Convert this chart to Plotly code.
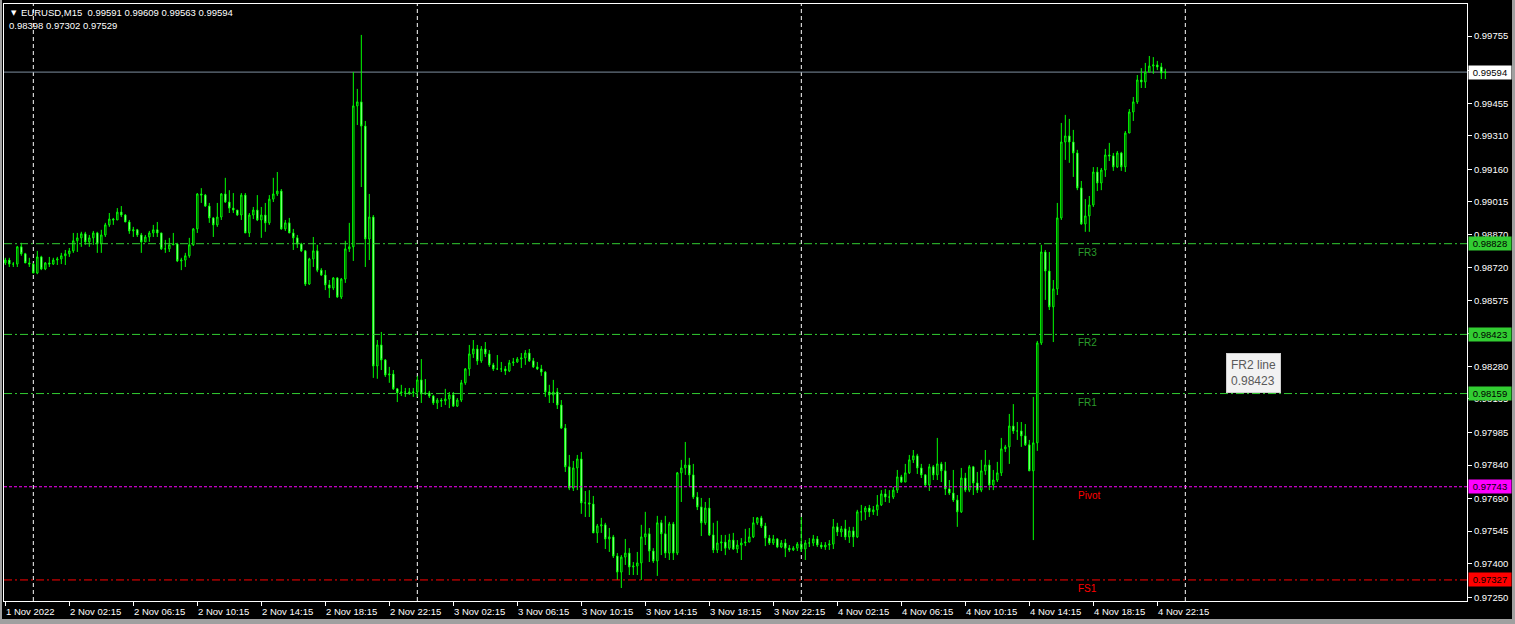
import plotly.graph_objects as go

# ---------------- data (EURUSD, M15) ----------------
opens = [
    0.98742, 0.98755, 0.98737, 0.98737, 0.98814, 0.98783, 0.98742, 0.98737, 0.98697, 0.98769,
    0.98715, 0.98742, 0.98737, 0.98755, 0.98760, 0.98774, 0.98783, 0.98796, 0.98841, 0.98854,
    0.98872, 0.98836, 0.98854, 0.98876, 0.98827, 0.98867, 0.98912, 0.98938, 0.98934, 0.98969,
    0.98956, 0.98925, 0.98885, 0.98890, 0.98867, 0.98836, 0.98858, 0.98876, 0.98890, 0.98876,
    0.98805, 0.98805, 0.98823, 0.98827, 0.98751, 0.98755, 0.98774, 0.98823, 0.98894, 0.99050,
    0.99045, 0.98996, 0.98943, 0.98912, 0.98947, 0.99050, 0.99014, 0.98987, 0.98978, 0.98956,
    0.99045, 0.98876, 0.98956, 0.98978, 0.98934, 0.98956, 0.98921, 0.99027, 0.99050, 0.99063,
    0.98894, 0.98921, 0.98876, 0.98854, 0.98827, 0.98796, 0.98648, 0.98760, 0.98796, 0.98710,
    0.98688, 0.98644, 0.98630, 0.98675, 0.98590, 0.98670, 0.98805, 0.98814, 0.99443, 0.99461,
    0.99353, 0.98849, 0.98947, 0.98282, 0.98376, 0.98309, 0.98242, 0.98246, 0.98180, 0.98162,
    0.98166, 0.98166, 0.98162, 0.98166, 0.98220, 0.98157, 0.98162, 0.98148, 0.98117, 0.98130,
    0.98126, 0.98135, 0.98153, 0.98103, 0.98130, 0.98207, 0.98269, 0.98336, 0.98358, 0.98305,
    0.98358, 0.98336, 0.98287, 0.98269, 0.98269, 0.98269, 0.98260, 0.98296, 0.98300, 0.98313,
    0.98318, 0.98340, 0.98305, 0.98278, 0.98269, 0.98255, 0.98166, 0.98153, 0.98166, 0.98108,
    0.98005, 0.97832, 0.97737, 0.97827, 0.97867, 0.97671, 0.97671, 0.97666, 0.97537, 0.97568,
    0.97573, 0.97510, 0.97519, 0.97434, 0.97362, 0.97429, 0.97447, 0.97385, 0.97389, 0.97403,
    0.97519, 0.97533, 0.97456, 0.97412, 0.97582, 0.97533, 0.97447, 0.97577, 0.97447, 0.97805,
    0.97827, 0.97840, 0.97796, 0.97697, 0.97653, 0.97582, 0.97648, 0.97528, 0.97461, 0.97492,
    0.97496, 0.97469, 0.97505, 0.97465, 0.97483, 0.97492, 0.97496, 0.97519, 0.97582, 0.97604,
    0.97568, 0.97514, 0.97492, 0.97510, 0.97474, 0.97492, 0.97469, 0.97461, 0.97469, 0.97487,
    0.97465, 0.97492, 0.97492, 0.97510, 0.97483, 0.97474, 0.97483, 0.97487, 0.97564, 0.97541,
    0.97555, 0.97519, 0.97546, 0.97519, 0.97631, 0.97631, 0.97648, 0.97631, 0.97640, 0.97662,
    0.97711, 0.97697, 0.97697, 0.97728, 0.97787, 0.97764, 0.97805, 0.97863, 0.97881, 0.97827,
    0.97796, 0.97751, 0.97832, 0.97796, 0.97845, 0.97814, 0.97733, 0.97715, 0.97684, 0.97631,
    0.97782, 0.97728, 0.97832, 0.97760, 0.97728, 0.97814, 0.97840, 0.97751, 0.97773, 0.97805,
    0.97912, 0.97921, 0.98014, 0.97992, 0.97992, 0.97970, 0.97930, 0.97814, 0.97939, 0.98385,
    0.98791, 0.98706, 0.98546, 0.98626, 0.98943, 0.99282, 0.99309, 0.99282, 0.99233, 0.99077,
    0.98916, 0.98952, 0.99001, 0.99148, 0.99099, 0.99157, 0.99224, 0.99220, 0.99171, 0.99233,
    0.99171, 0.99322, 0.99416, 0.99461, 0.99559, 0.99550, 0.99594, 0.99621, 0.99626, 0.99617,
    0.99591,
]
highs = [
    0.98765, 0.98765, 0.98746, 0.98818, 0.98832, 0.98787, 0.98765, 0.98742, 0.98796, 0.98774,
    0.98746, 0.98769, 0.98765, 0.98769, 0.98787, 0.98800, 0.98809, 0.98876, 0.98876, 0.98881,
    0.98881, 0.98867, 0.98885, 0.98881, 0.98890, 0.98921, 0.98965, 0.98943, 0.98987, 0.98996,
    0.98960, 0.98934, 0.98903, 0.98894, 0.98876, 0.98867, 0.98885, 0.98912, 0.98925, 0.98876,
    0.98845, 0.98854, 0.98876, 0.98832, 0.98765, 0.98787, 0.98854, 0.98898, 0.99054, 0.99076,
    0.99050, 0.99010, 0.98947, 0.99010, 0.99054, 0.99122, 0.99067, 0.99054, 0.98978, 0.99054,
    0.99054, 0.98965, 0.98992, 0.99045, 0.98992, 0.99010, 0.99045, 0.99122, 0.99148, 0.99072,
    0.98934, 0.98943, 0.98894, 0.98867, 0.98832, 0.98800, 0.98765, 0.98858, 0.98823, 0.98719,
    0.98710, 0.98666, 0.98679, 0.98679, 0.98675, 0.98841, 0.98921, 0.99594, 0.99519, 0.99760,
    0.99376, 0.99050, 0.98956, 0.98398, 0.98434, 0.98313, 0.98278, 0.98264, 0.98184, 0.98198,
    0.98184, 0.98184, 0.98184, 0.98238, 0.98313, 0.98224, 0.98171, 0.98153, 0.98139, 0.98139,
    0.98180, 0.98166, 0.98166, 0.98139, 0.98220, 0.98273, 0.98376, 0.98398, 0.98376, 0.98371,
    0.98389, 0.98353, 0.98296, 0.98331, 0.98300, 0.98282, 0.98309, 0.98318, 0.98322, 0.98340,
    0.98353, 0.98358, 0.98318, 0.98300, 0.98287, 0.98260, 0.98198, 0.98220, 0.98184, 0.98130,
    0.98023, 0.97885, 0.97858, 0.97885, 0.97898, 0.97724, 0.97728, 0.97702, 0.97577, 0.97604,
    0.97582, 0.97559, 0.97528, 0.97447, 0.97438, 0.97510, 0.97469, 0.97407, 0.97452, 0.97573,
    0.97631, 0.97559, 0.97469, 0.97613, 0.97595, 0.97613, 0.97586, 0.97586, 0.97809, 0.97863,
    0.97943, 0.97872, 0.97845, 0.97719, 0.97693, 0.97675, 0.97693, 0.97582, 0.97591, 0.97528,
    0.97528, 0.97533, 0.97537, 0.97505, 0.97514, 0.97555, 0.97559, 0.97608, 0.97608, 0.97613,
    0.97582, 0.97528, 0.97528, 0.97514, 0.97505, 0.97510, 0.97483, 0.97478, 0.97496, 0.97608,
    0.97505, 0.97514, 0.97528, 0.97523, 0.97496, 0.97496, 0.97505, 0.97599, 0.97582, 0.97568,
    0.97595, 0.97564, 0.97564, 0.97640, 0.97662, 0.97657, 0.97662, 0.97657, 0.97706, 0.97728,
    0.97733, 0.97728, 0.97742, 0.97818, 0.97796, 0.97845, 0.97885, 0.97907, 0.97890, 0.97845,
    0.97800, 0.97845, 0.97840, 0.97961, 0.97854, 0.97854, 0.97773, 0.97818, 0.97706, 0.97827,
    0.97805, 0.97840, 0.97836, 0.97809, 0.97863, 0.97907, 0.97863, 0.97818, 0.97854, 0.97961,
    0.97930, 0.98068, 0.98112, 0.98032, 0.98032, 0.98023, 0.97952, 0.98144, 0.98394, 0.98823,
    0.98800, 0.98791, 0.98666, 0.99010, 0.99367, 0.99403, 0.99385, 0.99336, 0.99247, 0.99108,
    0.99027, 0.99041, 0.99170, 0.99170, 0.99166, 0.99251, 0.99278, 0.99233, 0.99242, 0.99238,
    0.99331, 0.99429, 0.99483, 0.99581, 0.99612, 0.99635, 0.99666, 0.99661, 0.99644, 0.99635,
    0.99609,
]
lows = [
    0.98733, 0.98724, 0.98724, 0.98724, 0.98774, 0.98742, 0.98724, 0.98697, 0.98692, 0.98710,
    0.98710, 0.98724, 0.98733, 0.98733, 0.98737, 0.98733, 0.98769, 0.98787, 0.98791, 0.98814,
    0.98823, 0.98814, 0.98823, 0.98787, 0.98787, 0.98858, 0.98903, 0.98912, 0.98934, 0.98947,
    0.98925, 0.98872, 0.98858, 0.98858, 0.98787, 0.98836, 0.98836, 0.98858, 0.98858, 0.98800,
    0.98787, 0.98791, 0.98823, 0.98746, 0.98710, 0.98724, 0.98765, 0.98818, 0.98876, 0.99010,
    0.98992, 0.98921, 0.98858, 0.98903, 0.98934, 0.99010, 0.98965, 0.98965, 0.98952, 0.98934,
    0.98876, 0.98858, 0.98938, 0.98929, 0.98854, 0.98881, 0.98912, 0.99014, 0.99041, 0.98890,
    0.98885, 0.98876, 0.98800, 0.98809, 0.98791, 0.98639, 0.98644, 0.98724, 0.98701, 0.98684,
    0.98621, 0.98586, 0.98621, 0.98586, 0.98581, 0.98653, 0.98791, 0.98751, 0.99358, 0.99081,
    0.98724, 0.98755, 0.98229, 0.98225, 0.98264, 0.98233, 0.98207, 0.98175, 0.98121, 0.98148,
    0.98144, 0.98153, 0.98144, 0.98144, 0.98117, 0.98153, 0.98139, 0.98108, 0.98090, 0.98099,
    0.98108, 0.98094, 0.98099, 0.98099, 0.98121, 0.98198, 0.98238, 0.98318, 0.98287, 0.98296,
    0.98322, 0.98278, 0.98260, 0.98264, 0.98255, 0.98242, 0.98255, 0.98282, 0.98296, 0.98273,
    0.98287, 0.98300, 0.98273, 0.98264, 0.98238, 0.98144, 0.98117, 0.98117, 0.98090, 0.98001,
    0.97809, 0.97728, 0.97724, 0.97728, 0.97622, 0.97608, 0.97608, 0.97537, 0.97492, 0.97537,
    0.97465, 0.97452, 0.97425, 0.97327, 0.97291, 0.97394, 0.97349, 0.97349, 0.97349, 0.97327,
    0.97483, 0.97407, 0.97403, 0.97345, 0.97438, 0.97425, 0.97416, 0.97416, 0.97438, 0.97675,
    0.97796, 0.97746, 0.97688, 0.97639, 0.97523, 0.97573, 0.97523, 0.97447, 0.97447, 0.97456,
    0.97438, 0.97461, 0.97461, 0.97447, 0.97416, 0.97478, 0.97496, 0.97514, 0.97573, 0.97559,
    0.97478, 0.97483, 0.97483, 0.97469, 0.97469, 0.97429, 0.97452, 0.97456, 0.97456, 0.97452,
    0.97416, 0.97474, 0.97478, 0.97474, 0.97465, 0.97461, 0.97461, 0.97465, 0.97523, 0.97519,
    0.97505, 0.97492, 0.97474, 0.97514, 0.97591, 0.97595, 0.97608, 0.97617, 0.97613, 0.97657,
    0.97675, 0.97671, 0.97688, 0.97715, 0.97760, 0.97764, 0.97800, 0.97849, 0.97800, 0.97782,
    0.97742, 0.97724, 0.97773, 0.97773, 0.97764, 0.97706, 0.97706, 0.97675, 0.97564, 0.97626,
    0.97719, 0.97719, 0.97706, 0.97715, 0.97719, 0.97796, 0.97728, 0.97728, 0.97764, 0.97791,
    0.97898, 0.97845, 0.97979, 0.97952, 0.97921, 0.97925, 0.97814, 0.97505, 0.97903, 0.98376,
    0.98577, 0.98532, 0.98389, 0.98599, 0.98934, 0.99202, 0.99189, 0.99126, 0.99067, 0.98912,
    0.98881, 0.98881, 0.98992, 0.99063, 0.99067, 0.99126, 0.99197, 0.99153, 0.99166, 0.99153,
    0.99148, 0.99322, 0.99376, 0.99452, 0.99523, 0.99523, 0.99594, 0.99586, 0.99603, 0.99563,
    0.99563,
]
closes = [
    0.98755, 0.98737, 0.98737, 0.98814, 0.98783, 0.98742, 0.98737, 0.98697, 0.98769, 0.98715,
    0.98742, 0.98737, 0.98755, 0.98760, 0.98774, 0.98783, 0.98796, 0.98841, 0.98854, 0.98872,
    0.98836, 0.98854, 0.98876, 0.98827, 0.98867, 0.98912, 0.98938, 0.98934, 0.98969, 0.98956,
    0.98925, 0.98885, 0.98890, 0.98867, 0.98836, 0.98858, 0.98876, 0.98890, 0.98876, 0.98805,
    0.98805, 0.98823, 0.98827, 0.98751, 0.98755, 0.98774, 0.98823, 0.98894, 0.99050, 0.99045,
    0.98996, 0.98943, 0.98912, 0.98947, 0.99050, 0.99014, 0.98987, 0.98978, 0.98956, 0.99045,
    0.98876, 0.98956, 0.98978, 0.98934, 0.98956, 0.98921, 0.99027, 0.99050, 0.99063, 0.98894,
    0.98921, 0.98876, 0.98854, 0.98827, 0.98796, 0.98648, 0.98760, 0.98796, 0.98710, 0.98688,
    0.98644, 0.98630, 0.98675, 0.98590, 0.98670, 0.98805, 0.98814, 0.99443, 0.99461, 0.99353,
    0.98849, 0.98947, 0.98282, 0.98376, 0.98309, 0.98242, 0.98246, 0.98180, 0.98162, 0.98166,
    0.98166, 0.98162, 0.98166, 0.98220, 0.98157, 0.98162, 0.98148, 0.98117, 0.98130, 0.98126,
    0.98135, 0.98153, 0.98103, 0.98130, 0.98207, 0.98269, 0.98336, 0.98358, 0.98305, 0.98358,
    0.98336, 0.98287, 0.98269, 0.98269, 0.98269, 0.98260, 0.98296, 0.98300, 0.98313, 0.98318,
    0.98340, 0.98305, 0.98278, 0.98269, 0.98255, 0.98166, 0.98153, 0.98166, 0.98108, 0.98005,
    0.97832, 0.97737, 0.97827, 0.97867, 0.97671, 0.97671, 0.97666, 0.97537, 0.97568, 0.97573,
    0.97510, 0.97519, 0.97434, 0.97362, 0.97429, 0.97447, 0.97385, 0.97389, 0.97403, 0.97519,
    0.97533, 0.97456, 0.97412, 0.97582, 0.97533, 0.97447, 0.97577, 0.97447, 0.97805, 0.97827,
    0.97840, 0.97796, 0.97697, 0.97653, 0.97582, 0.97648, 0.97528, 0.97461, 0.97492, 0.97496,
    0.97469, 0.97505, 0.97465, 0.97483, 0.97492, 0.97496, 0.97519, 0.97582, 0.97604, 0.97568,
    0.97514, 0.97492, 0.97510, 0.97474, 0.97492, 0.97469, 0.97461, 0.97469, 0.97487, 0.97465,
    0.97492, 0.97492, 0.97510, 0.97483, 0.97474, 0.97483, 0.97487, 0.97564, 0.97541, 0.97555,
    0.97519, 0.97546, 0.97519, 0.97631, 0.97631, 0.97648, 0.97631, 0.97640, 0.97662, 0.97711,
    0.97697, 0.97697, 0.97728, 0.97787, 0.97764, 0.97805, 0.97863, 0.97881, 0.97827, 0.97796,
    0.97751, 0.97832, 0.97796, 0.97845, 0.97814, 0.97733, 0.97715, 0.97684, 0.97631, 0.97782,
    0.97728, 0.97832, 0.97760, 0.97728, 0.97814, 0.97840, 0.97751, 0.97773, 0.97805, 0.97912,
    0.97921, 0.98014, 0.97992, 0.97992, 0.97970, 0.97930, 0.97814, 0.97939, 0.98385, 0.98791,
    0.98706, 0.98546, 0.98626, 0.98943, 0.99282, 0.99309, 0.99282, 0.99233, 0.99077, 0.98916,
    0.98952, 0.99001, 0.99148, 0.99099, 0.99157, 0.99224, 0.99220, 0.99171, 0.99233, 0.99171,
    0.99322, 0.99416, 0.99461, 0.99559, 0.99550, 0.99594, 0.99621, 0.99626, 0.99617, 0.99590,
    0.99594,
]

time_labels = [
    "1 Nov 2022", "2 Nov 02:15", "2 Nov 06:15", "2 Nov 10:15", "2 Nov 14:15", "2 Nov 18:15",
    "2 Nov 22:15", "3 Nov 02:15", "3 Nov 06:15", "3 Nov 10:15", "3 Nov 14:15", "3 Nov 18:15",
    "3 Nov 22:15", "4 Nov 02:15", "4 Nov 06:15", "4 Nov 10:15", "4 Nov 14:15", "4 Nov 18:15",
    "4 Nov 22:15",
]
label_bars = [0, 16, 32, 48, 64, 80, 96, 112, 128, 144, 160, 176, 192, 208, 224, 240, 256, 272, 288]
day_grid_bars = [7, 103, 199, 295]

price_ticks = [0.99755, 0.99600, 0.99455, 0.99310, 0.99160, 0.99015, 0.98870, 0.98720, 0.98575,
               0.98425, 0.98280, 0.98135, 0.97985, 0.97840, 0.97690, 0.97545, 0.97400, 0.97250]

level_names = ["FR3", "FR2", "FR1", "Pivot", "FS1"]
level_values = [0.98828, 0.98423, 0.98159, 0.97743, 0.97327]
level_colors = ["#32CD32", "#32CD32", "#32CD32", "#FF00FF", "#FF0000"]
level_text_colors = ["#2A9A2A", "#2A9A2A", "#2A9A2A", "#FF0000", "#FF0000"]
level_dashes = ["8px,3px,2px,3px", "8px,3px,2px,3px", "8px,3px,2px,3px", "3px,2px", "8px,3px,2px,3px"]

current_price = 0.99594
symbol = "EURUSD,M15"
last_ohlc = "0.99591 0.99609 0.99563 0.99594"
indicator_values = "0.98398 0.97302 0.97529"
tooltip_text = "FR2 line<br>0.98423"

# ---------------- layout geometry ----------------
FONT = "Liberation Sans, Arial, sans-serif"
W, H = 1515, 624
L_M, R_M, T_M, B_M = 4, 48, 4, 23
PW = W - L_M - R_M
PH = H - T_M - B_M


def px_x(px):
    return (px - L_M) / PW


def px_y(py):
    return 1 - (py - T_M) / PH


bars = list(range(len(closes)))

fig = go.Figure(go.Candlestick(
    x=bars, open=opens, high=highs, low=lows, close=closes,
    increasing=dict(line=dict(color="#00FF00", width=1), fillcolor="#000000"),
    decreasing=dict(line=dict(color="#00FF00", width=1), fillcolor="#FFFFFF"),
    whiskerwidth=0, hoverinfo="skip", showlegend=False,
))

shapes = []
# window chrome strips (left, right, bottom)
CHROME = "#A0A0A0"
shapes.append(dict(type="rect", xref="paper", yref="paper", x0=px_x(0), x1=px_x(2), y0=px_y(624), y1=px_y(0),
                   line=dict(width=0), fillcolor=CHROME, layer="below"))
shapes.append(dict(type="rect", xref="paper", yref="paper", x0=px_x(1512), x1=px_x(1515), y0=px_y(624), y1=px_y(0),
                   line=dict(width=0), fillcolor=CHROME, layer="below"))
shapes.append(dict(type="rect", xref="paper", yref="paper", x0=px_x(0), x1=px_x(1515), y0=px_y(624), y1=px_y(619),
                   line=dict(width=0), fillcolor=CHROME, layer="below"))
for b in day_grid_bars:
    shapes.append(dict(type="line", xref="x", yref="paper", x0=b, x1=b, y0=0, y1=1,
                       line=dict(color="#FFFFFF", width=1, dash="4px,3px"), layer="below"))
shapes.append(dict(type="line", xref="paper", yref="y", x0=0, x1=1, y0=current_price, y1=current_price,
                   line=dict(color="#7F8FA0", width=1), layer="below"))
for v, c, d in zip(level_values, level_colors, level_dashes):
    shapes.append(dict(type="line", xref="paper", yref="y", x0=0, x1=1, y0=v, y1=v,
                       line=dict(color=c, width=1, dash=d), layer="above"))

ann = []
# level labels inside the chart
for n, v, tc in zip(level_names, level_values, level_text_colors):
    ann.append(dict(xref="paper", yref="y", x=px_x(1076), y=v, xanchor="left", yanchor="top",
                    yshift=-1, text=n, showarrow=False,
                    font=dict(family=FONT, size=10, color=tc)))
# price boxes on the right axis
for v, c in zip(level_values, level_colors):
    ann.append(dict(xref="paper", yref="y", x=1, xshift=1, y=v, xanchor="left", yanchor="middle",
                    text=f"{v:.5f}", showarrow=False, bgcolor=c, borderpad=1, width=40, height=11,
                    font=dict(family=FONT, size=9.5, color="#000000")))
ann.append(dict(xref="paper", yref="y", x=1, xshift=1, y=current_price, xanchor="left", yanchor="middle",
                text=f"{current_price:.5f}", showarrow=False, bgcolor="#FFFFFF", borderpad=1, width=40,
                height=11, font=dict(family=FONT, size=9.5, color="#000000")))
# time labels
for b, t in zip(label_bars, time_labels):
    ann.append(dict(xref="x", yref="paper", x=b, y=0, xanchor="left", yanchor="top", xshift=-1,
                    yshift=-3, text=t, showarrow=False,
                    font=dict(family=FONT, size=9.5, color="#FFFFFF")))
# header
ann.append(dict(xref="paper", yref="paper", x=px_x(9), y=px_y(12.5), xanchor="left", yanchor="middle",
                text="\u25BC", showarrow=False, font=dict(family="DejaVu Sans", size=7, color="#FFFFFF")))
ann.append(dict(xref="paper", yref="paper", x=px_x(19), y=px_y(12.5), xanchor="left", yanchor="middle",
                text=symbol + "\u00a0\u00a0" + last_ohlc, showarrow=False,
                font=dict(family=FONT, size=9.5, color="#FFFFFF")))
ann.append(dict(xref="paper", yref="paper", x=px_x(7), y=px_y(25), xanchor="left", yanchor="middle",
                text=indicator_values, showarrow=False,
                font=dict(family=FONT, size=9.5, color="#FFFFFF")))
# tooltip
ann.append(dict(xref="paper", yref="paper", x=px_x(1226), y=px_y(353), xanchor="left", yanchor="top",
                text=tooltip_text, align="left", showarrow=False, bgcolor="#F2F2F2",
                bordercolor="#CFCFCF", borderwidth=1, borderpad=4,
                font=dict(family=FONT, size=12, color="#5A5A5A")))

fig.update_layout(
    width=W, height=H,
    margin=dict(l=L_M, r=R_M, t=T_M, b=B_M, pad=0),
    paper_bgcolor="#000000", plot_bgcolor="#000000",
    showlegend=False, boxgap=0.5,
    xaxis=dict(range=[-0.33, 365.42], rangeslider=dict(visible=False), showgrid=False, zeroline=False,
               showline=True, linecolor="#FFFFFF", linewidth=1, mirror=True,
               tickmode="array", tickvals=label_bars, ticks="outside", ticklen=4,
               tickcolor="#FFFFFF", showticklabels=False, fixedrange=True),
    yaxis=dict(range=[0.97233, 0.99898], side="right", showgrid=False, zeroline=False,
               showline=True, linecolor="#FFFFFF", linewidth=1, mirror=True,
               tickmode="array", tickvals=price_ticks, tickformat=".5f", ticks="outside", ticklen=4,
               tickcolor="#FFFFFF", tickfont=dict(family=FONT, size=9.5, color="#FFFFFF"),
               fixedrange=True),
    shapes=shapes, annotations=ann,
)

fig.write_html(
    "out.html",
    config={"displayModeBar": False},
    post_script="document.body.style.margin='0';document.body.style.overflow='hidden';",
)
